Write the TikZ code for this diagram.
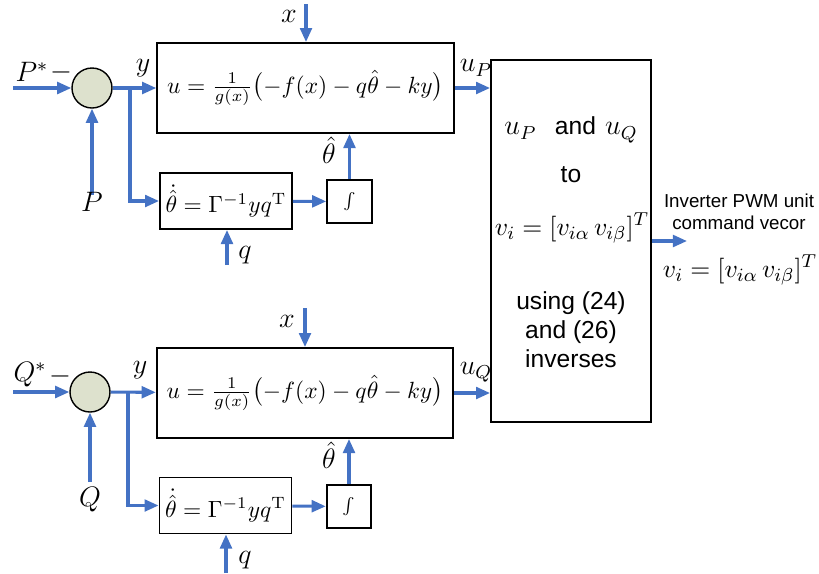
\documentclass[tikz,border=0pt]{standalone}
\usepackage{amsmath,amssymb}
\usepackage{fontspec}
\setsansfont{Liberation Sans}
\usepackage{tikz}
\usetikzlibrary{arrows.meta,positioning,calc}
\definecolor{sigblue}{RGB}{68,114,196}
\definecolor{sumfill}{RGB}{221,225,205}

\begin{document}
\begin{tikzpicture}[x=0.015cm, y=-0.015cm,
  blk/.style={draw, line width=0.8pt, align=center, inner sep=2pt},
  ctrlbox/.style={blk, minimum width=4.45cm, minimum height=1.35cm, font=\fontsize{10.2}{12}\selectfont},
  lawbox/.style={blk, minimum width=1.98cm, minimum height=0.84cm, font=\fontsize{10}{12}\selectfont},
  intbox/.style={blk, minimum width=0.67cm, minimum height=0.64cm, font=\scriptsize},
  sumnode/.style={circle, draw, line width=0.6pt, fill=sumfill, minimum size=0.6cm, inner sep=0pt},
  lbl/.style={font=\large, inner sep=1pt},
  vlbl/.style={font=\fontsize{11}{13}\selectfont, inner sep=1pt},
  txt/.style={font=\sffamily\fontsize{10.5}{12.3}\selectfont, align=center, inner sep=1pt},
  arr/.style={-{Triangle[length=6pt,width=5pt]}, draw=sigblue, line width=1.3pt}
]

\useasboundingbox (0,0) rectangle (819,573);

%% Conversion block
\node[blk, minimum width=2.4cm, minimum height=5.43cm] (conv) at (571,241) {};
\node[lbl] (convA) at (571,130) {$u_P$\ \ \textsf{\fontsize{10.5}{12}\selectfont and}\ $u_Q$};
\node[txt] (convB) at (571,175) {to};
\node[vlbl] (convC) at (572,228) {$v_i=[v_{i\alpha}\,v_{i\beta}]^{T}$};
\node[txt] (convD) at (571,330) {using (24)\\and (26)\\inverses};

%% P loop
\node[sumnode] (sumP) at (92,88) {};
\node[ctrlbox] (ctrlP) at (305.5,88) {$u=\frac{1}{g(x)}\bigl(-f(x)-q\hat{\theta}-ky\bigr)$};
\node[lawbox] (lawP) at (226,201) {$\dot{\hat{\theta}}=\Gamma^{-1}yq^{\mathrm{T}}$};
\node[intbox] (intP) at (349.5,201.5) {$\int$};

\coordinate (inP) at (13,88);
\coordinate (brP) at (130,88);
\coordinate (meP) at (92,195);
\coordinate (xP) at (306,4);
\coordinate (qP) at (227,265);

\draw[arr] (inP) -- (sumP);
\draw[arr] (meP) -- (sumP);
\draw[arr] (sumP) -- (ctrlP);
\draw[arr] (brP) |- (lawP.west);
\draw[arr] (xP) -- (xP |- ctrlP.north);
\draw[arr] (qP) -- (qP |- lawP.south);
\draw[arr] (lawP) -- (intP);
\draw[arr] (intP) -- (intP |- ctrlP.south);
\draw[arr] (ctrlP.east) -- (ctrlP.east -| conv.west);

\node[lbl] (refP) at (32,72) {$P^{*}$};
\node[lbl] (minP) at (61,72) {$-$};
\node[lbl] (labP) at (92,202) {$P$};
\node[lbl] (yP) at (143,68) {$y$};
\node[lbl] (xlP) at (289,16) {$x$};
\node[lbl] (qlP) at (245,255) {$q$};
\node[lbl] (thP) at (329,150) {$\hat{\theta}$};
\node[lbl] (uP) at (476,68) {$u_P$};

%% Q loop
\node[sumnode] (sumQ) at (90,392) {};
\node[ctrlbox] (ctrlQ) at (305,393) {$u=\frac{1}{g(x)}\bigl(-f(x)-q\hat{\theta}-ky\bigr)$};
\node[lawbox] (lawQ) at (225.5,505.5) {$\dot{\hat{\theta}}=\Gamma^{-1}yq^{\mathrm{T}}$};
\node[intbox] (intQ) at (349,506.5) {$\int$};

\coordinate (inQ) at (13,392);
\coordinate (brQ) at (128,392);
\coordinate (meQ) at (90,482);
\coordinate (xQ) at (305,308);
\coordinate (qQ) at (226,573);

\draw[arr] (inQ) -- (sumQ);
\draw[arr] (meQ) -- (sumQ);
\draw[arr] (sumQ) -- (ctrlQ);
\draw[arr] (brQ) |- (lawQ.west);
\draw[arr] (xQ) -- (xQ |- ctrlQ.north);
\draw[arr] (qQ) -- (qQ |- lawQ.south);
\draw[arr] (lawQ) -- (intQ);
\draw[arr] (intQ) -- (intQ |- ctrlQ.south);
\draw[arr] (ctrlQ.east) -- (ctrlQ.east -| conv.west);

\node[lbl] (refQ) at (30,375) {$Q^{*}$};
\node[lbl] (minQ) at (60,376) {$-$};
\node[lbl] (labQ) at (90,500) {$Q$};
\node[lbl] (yQ) at (140,370) {$y$};
\node[lbl] (xlQ) at (287,321) {$x$};
\node[lbl] (qlQ) at (245,560) {$q$};
\node[lbl] (thQ) at (329,455) {$\hat{\theta}$};
\node[lbl] (uQ) at (476,372) {$u_Q$};

%% Output
\coordinate (outv) at (687,241);
\draw[arr] (conv.east) -- (outv);
\node[txt, font=\sffamily\fontsize{8}{9.2}\selectfont] (pwm) at (739,212) {Inverter PWM unit\\command vecor};
\node[vlbl] (vout) at (740,270) {$v_i=[v_{i\alpha}\,v_{i\beta}]^{T}$};

\end{tikzpicture}
\end{document}
